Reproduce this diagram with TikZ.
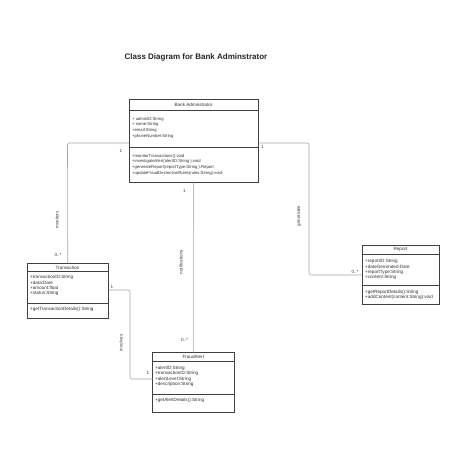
\documentclass[tikz,border=0pt]{standalone}
\usepackage{fontspec}
\setmainfont{Liberation Sans}
\begin{document}
\begin{tikzpicture}[x=1pt,y=-1pt,
  box/.style={draw=black!75,line width=0.5pt,inner sep=0pt,anchor=north west},
  sep/.style={draw=black!75,line width=0.5pt},
  txt/.style={font=\fontsize{4.6}{5}\selectfont,text=black!80,inner sep=0pt,anchor=west},
  atxt/.style={txt,font=\fontsize{4.2}{5}\selectfont},
  ttl/.style={font=\fontsize{4.6}{5}\selectfont,text=black!80,inner sep=0pt},
  conn/.style={draw=black!35,line width=0.6pt,rounded corners=2pt},
  lbl/.style={font=\fontsize{4.6}{5}\selectfont,text=black!75,inner sep=0pt}]
\useasboundingbox[fill=white] (0,0) rectangle (451,451);
\node[font=\fontsize{8}{9}\selectfont\bfseries,text=black!85,inner sep=0pt] (title) at (196,57) {Class Diagram for Bank Adminstrator};

% Bank Administrator
\node[box,minimum width=129pt,minimum height=83pt] (admin) at (129,99) {};
\draw[sep] (129,110) -- (258,110);
\draw[sep] (129,147.5) -- (258,147.5);
\node[ttl] (adminT) at (193.5,104.5) {Bank Adminstrator};
\node[atxt] (a1) at (132,119) {+ adminID:String};
\node[atxt] (a2) at (132,124.7) {+ name:String};
\node[atxt] (a3) at (132,130.4) {+email:String};
\node[atxt] (a4) at (132,136.1) {+phoneNumber:String};
\node[atxt] (m1) at (132,156) {+monitorTransactions():void};
\node[atxt] (m2) at (132,161.7) {+investigateAlert(alertID:String ):void};
\node[atxt] (m3) at (132,167.4) {+generateReport(reportType:String ):Report};
\node[atxt] (m4) at (132,173.1) {+updateFraudDectectionRules(rules:String):void-};

% Transaction
\node[box,minimum width=81pt,minimum height=55pt] (trans) at (27,263.3) {};
\draw[sep] (27,271.7) -- (108,271.7);
\draw[sep] (27,303.7) -- (108,303.7);
\node[ttl] (transT) at (67.5,267.4) {Transaction};
\node[txt] (t1) at (30,277.7) {+transactionID:String};
\node[txt] (t2) at (30,283) {+data:Date};
\node[txt] (t3) at (30,288.3) {+amount:float};
\node[txt] (t4) at (30,293.6) {+status:String};
\node[txt] (t5) at (30,309.7) {+getTransactionDetails():String};

% Report
\node[box,minimum width=77pt,minimum height=58.7pt] (report) at (362,245.3) {};
\draw[sep] (362,254) -- (439,254);
\draw[sep] (362,285.3) -- (439,285.3);
\node[ttl] (reportT) at (400.5,249.6) {Report};
\node[txt] (r1) at (365,261.3) {+reportID:String};
\node[txt] (r2) at (365,266.6) {+dateGenerated:Date};
\node[txt] (r3) at (365,271.9) {+reportType:String};
\node[txt] (r4) at (365,277.2) {+content:String};
\node[txt] (r5) at (365,292.3) {+getReportDetails():String};
\node[txt] (r6) at (365,297.8) {+addContent(content:String):void};

% FraudAlert
\node[box,minimum width=82pt,minimum height=59.4pt] (fraud) at (152.3,352.3) {};
\draw[sep] (152.3,361) -- (234.3,361);
\draw[sep] (152.3,394.3) -- (234.3,394.3);
\node[ttl] (fraudT) at (193.3,356.6) {FraudAlert};
\node[txt] (f1) at (155,368.3) {+alertID:String};
\node[txt] (f2) at (155,373.6) {+transactionID:String};
\node[txt] (f3) at (155,378.9) {+alertLevel:String};
\node[txt] (f4) at (155,384.2) {+description:String};
\node[txt] (f5) at (155,400.3) {+getAlertDetails():String};

% connectors
\coordinate (c1) at (67.5,143);
\coordinate (c2) at (309,143);
\coordinate (c3) at (309,275);
\coordinate (c4) at (130,290);
\coordinate (c5) at (130,379);
\draw[conn] (admin.west |- c1) -- (c1) -- (trans.north);
\draw[conn] (admin.east |- c2) -- (c2) -- (c3) -- (report.west |- c3);
\draw[conn] (admin.south) -- (fraud.north);
\draw[conn] (trans.east |- c4) -- (c4) -- (c5) -- (fraud.west |- c5);

% labels
\node[lbl] (l1) at (121,150.5) {1};
\node[lbl] (l2) at (58,255) {0..*};
\node[lbl,rotate=90] (l3) at (57,220) {monitors};
\node[lbl] (l4) at (262.5,146.5) {1};
\node[lbl] (l5) at (355,272) {0..*};
\node[lbl,rotate=90] (l6) at (299,216) {generates};
\node[lbl] (l7) at (184.5,190.5) {1};
\node[lbl] (l8) at (184.5,340) {0..*};
\node[lbl,rotate=90] (l9) at (181,262) {notifications};
\node[lbl] (l10) at (112,287) {1};
\node[lbl] (l11) at (148,372.5) {1};
\node[lbl,rotate=90] (l12) at (121,343) {involves};
\end{tikzpicture}
\end{document}
